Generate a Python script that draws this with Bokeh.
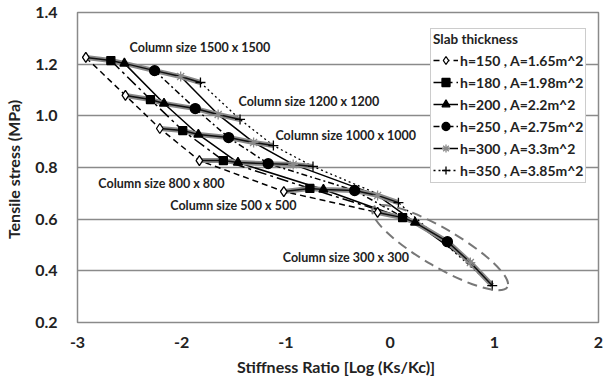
from bokeh.plotting import figure
from bokeh.models import Legend, LegendItem, Label
from bokeh.embed import file_html
from bokeh.resources import INLINE

# ---- data ----
col_sizes = ["1500 x 1500", "1200 x 1200", "1000 x 1000", "800 x 800", "500 x 500", "300 x 300"]
series_names = ["h=150 , A=1.65m^2", "h=180 , A=1.98m^2", "h=200 , A=2.2m^2",
                "h=250 , A=2.75m^2", "h=300 , A=3.3m^2", "h=350 , A=3.85m^2"]

x_h150 = [-2.92, -2.54, -2.21, -1.83, -1.02, -0.12]
y_h150 = [1.226, 1.079, 0.951, 0.827, 0.707, 0.626]
x_h180 = [-2.68, -2.30, -1.99, -1.60, -0.77, 0.12]
y_h180 = [1.214, 1.063, 0.943, 0.827, 0.719, 0.606]
x_h200 = [-2.55, -2.17, -1.84, -1.46, -0.64, 0.24]
y_h200 = [1.203, 1.048, 0.928, 0.819, 0.715, 0.587]
x_h250 = [-2.26, -1.87, -1.55, -1.17, -0.34, 0.55]
y_h250 = [1.175, 1.028, 0.916, 0.815, 0.711, 0.513]
x_h300 = [-2.01, -1.65, -1.31, -0.93, -0.12, 0.77]
y_h300 = [1.152, 1.005, 0.897, 0.812, 0.692, 0.432]
x_h350 = [-1.82, -1.44, -1.12, -0.74, 0.08, 0.98]
y_h350 = [1.129, 0.986, 0.885, 0.804, 0.664, 0.343]

x_ticks = [-3, -2, -1, 0, 1, 2]
x_tick_labels = ["-3", "-2", "-1", "0", "1", "2"]
y_ticks = [0.2, 0.4, 0.6, 0.8, 1.0, 1.2, 1.4]
y_tick_labels = ["0.2", "0.4", "0.6", "0.8", "1.0", "1.2", "1.4"]

xs_all = [x_h150, x_h180, x_h200, x_h250, x_h300, x_h350]
ys_all = [y_h150, y_h180, y_h200, y_h250, y_h300, y_h350]

FONT = "Lato"
TXT = "#222222"

p = figure(width=605, height=383, x_range=(-3, 2), y_range=(0.2, 1.4),
           output_backend="svg", toolbar_location=None,
           min_border_left=77, min_border_right=7, min_border_top=12, min_border_bottom=61)
p.background_fill_color = "white"
p.border_fill_color = "white"
p.outline_line_color = "#8a8a8a"
p.outline_line_width = 1.5

p.xgrid.visible = False
p.ygrid.grid_line_color = "#8a8a8a"
p.ygrid.grid_line_width = 1.5

p.xaxis.ticker = x_ticks
p.yaxis.ticker = y_ticks
p.xaxis.major_label_overrides = {t: l for t, l in zip(x_ticks, x_tick_labels)}
p.yaxis.major_label_overrides = {t: l for t, l in zip(y_ticks, y_tick_labels)}
for ax in (p.xaxis[0], p.yaxis[0]):
    ax.axis_line_color = None
    ax.major_tick_line_color = None
    ax.minor_tick_line_color = None
    ax.major_tick_out = 0
    ax.major_tick_in = 0
    ax.minor_tick_out = 0
    ax.minor_tick_in = 0
    ax.major_label_text_font = FONT
    ax.major_label_text_font_style = "bold"
    ax.major_label_text_font_size = "16px"
    ax.major_label_text_color = TXT
    ax.axis_label_text_font = FONT
    ax.axis_label_text_font_style = "bold"
    ax.axis_label_text_color = TXT
p.yaxis.major_label_standoff = 20
p.xaxis.major_label_standoff = 14
p.yaxis.axis_label = "Tensile  stress (MPa)"
p.xaxis.axis_label = "Stiffness  Ratio [Log (Ks/Kc)]"
p.yaxis.axis_label_text_font_size = "16px"
p.xaxis.axis_label_text_font_size = "16px"
p.yaxis.axis_label_standoff = 9
p.xaxis.axis_label_standoff = 6

dashes = ["6 4", "12 4 3 4", "solid", "6 3 2 3", "solid", "2 3"]
markers = ["diamond", "square", "triangle", "circle", "asterisk", "cross"]
msizes = [10, 8, 9, 10, 10, 10]
mfill = ["white", "black", "black", "black", None, None]
mline = ["black", "black", "black", "black", "#8a8a8a", "black"]

# series lines (one per slab thickness)
line_rs = []
for i in range(6):
    r = p.line(xs_all[i], ys_all[i], line_color="black", line_width=1.5 if i != 5 else 1.3,
               line_dash=dashes[i])
    line_rs.append(r)

# column-size bands (same points, across slab thickness)
for j in range(len(col_sizes)):
    bx = [xs_all[i][j] for i in range(6)]
    by = [ys_all[i][j] for i in range(6)]
    p.line(bx, by, line_color="#8a8a8a", line_width=5)
    p.line(bx, by, line_color="#111111", line_width=1.5)

# markers
mark_rs = []
for i in range(6):
    r = p.scatter(xs_all[i], ys_all[i], marker=markers[i], size=msizes[i],
                  fill_color=mfill[i], line_color=mline[i], line_width=1.3)
    mark_rs.append(r)

# dashed ellipse around the 300 x 300 group
p.ellipse(x=[0.48], y=[0.49], width=[156], height=[38], width_units="screen",
          height_units="screen", angle=[-0.53], fill_color=None, line_color="#777777",
          line_dash="10 6", line_width=2)

# column size annotations
label_pos = [(-2.50, 1.265), (-1.455, 1.056), (-1.10, 0.924), (-2.80, 0.738), (-2.11, 0.653), (-1.03, 0.452)]
for (lx, ly), cs in zip(label_pos, col_sizes):
    p.add_layout(Label(x=lx, y=ly, text="Column size " + cs, text_font=FONT,
                       text_font_style="bold", text_font_size="12.5px", text_color=TXT,
                       text_baseline="middle", text_align="left"))

legend = Legend(items=[LegendItem(label=series_names[i], renderers=[line_rs[i], mark_rs[i]])
                       for i in range(6)],
                location=(353, 139))
legend.title = "Slab thickness"
legend.title_text_font = FONT
legend.title_text_font_style = "bold"
legend.title_text_font_size = "13.5px"
legend.title_text_color = TXT
legend.title_standoff = 3
legend.label_text_font = FONT
legend.label_text_font_style = "bold"
legend.label_text_font_size = "14px"
legend.label_text_color = TXT
legend.label_height = 20
legend.glyph_height = 20
legend.glyph_width = 25
legend.label_standoff = 2
legend.spacing = 2
legend.padding = 2
legend.margin = 0
legend.border_line_color = "#999999"
legend.border_line_width = 1.2
legend.background_fill_color = "white"
legend.background_fill_alpha = 1.0
p.add_layout(legend)

open("out.html", "w").write(file_html(p, INLINE))
